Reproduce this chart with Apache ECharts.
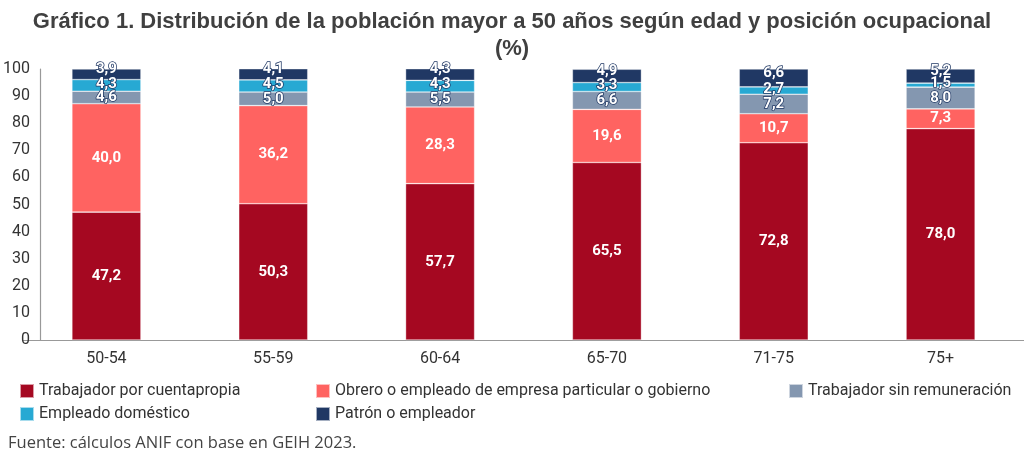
<!DOCTYPE html>
<html>
<head>
<meta charset="utf-8">
<script src="https://cdn.jsdelivr.net/npm/echarts@6/dist/echarts.min.js"></script>
<style>
  html, body { margin: 0; padding: 0; background: #fff; }
  #chart { width: 1024px; height: 451px; }
</style>
</head>
<body>
<div id="chart"></div>
<script>
// categorias y series
let categories = ['50-54', '55-59', '60-64', '65-70', '71-75', '75+'];
let cuentapropia = [47.2, 50.3, 57.7, 65.5, 72.8, 78.0];
let obrero = [40.0, 36.2, 28.3, 19.6, 10.7, 7.3];
let sinRemuneracion = [4.6, 5.0, 5.5, 6.6, 7.2, 8.0];
let domestico = [4.3, 4.5, 4.3, 3.3, 2.7, 1.5];
let patron = [3.9, 4.1, 4.3, 4.9, 6.6, 5.2];
let yTicks = [0, 10, 20, 30, 40, 50, 60, 70, 80, 90, 100];

let seriesNames = [
    'Trabajador por cuentapropia',
    'Obrero o empleado de empresa particular o gobierno',
    'Trabajador sin remuneración',
    'Empleado doméstico',
    'Patrón o empleador'
];
let seriesData = [cuentapropia, obrero, sinRemuneracion, domestico, patron];
let colors = ['#A50821', '#FF6361', '#8497B0', '#27A9D3', '#203864'];
let labelOffsets = [[0, 0], [0, 0], [0, 0], [0, -1.5], [0, -5]];
let outlined = [false, false, true, true, true];

let chart = echarts.init(document.getElementById('chart'));

let series = [];
for (let i = 0; i < seriesNames.length; i++) {
    series.push({
        name: seriesNames[i],
        type: 'bar',
        stack: 'total',
        barWidth: 69,
        data: seriesData[i],
        itemStyle: {
            color: colors[i],
            borderColor: 'rgba(255,255,255,0.6)',
            borderWidth: 0.6
        },
        label: {
            show: true,
            position: 'inside',
            offset: labelOffsets[i],
            color: '#fff',
            fontFamily: 'Roboto',
            fontWeight: 'bold',
            fontSize: 15,
            textBorderColor: outlined[i] ? colors[4] : 'transparent',
            textBorderWidth: outlined[i] ? 1.5 : 0,
            formatter: function (p) {
                return p.value.toFixed(1).replace('.', ',');
            }
        }
    });
}

// leyenda: una por elemento para alinear columnas
let legendPos = [
    [14, 378], [310, 378], [783, 378],
    [14, 401], [310, 401]
];
let legends = [];
for (let i = 0; i < seriesNames.length; i++) {
    legends.push({
        data: [seriesNames[i]],
        left: legendPos[i][0],
        top: legendPos[i][1],
        itemWidth: 14,
        itemHeight: 14,
        itemGap: 6,
        icon: 'rect',
        textStyle: {
            fontFamily: 'Roboto',
            fontSize: 16,
            color: '#333'
        },
        selectedMode: false
    });
}

let option = {
    animation: false,
    title: [
        {
            text: 'Gráfico 1. Distribución de la población mayor a 50 años según edad y posición ocupacional\n(%)',
            left: 'center',
            top: 3,
            textStyle: {
                fontFamily: 'Liberation Sans',
                fontWeight: 'bold',
                fontSize: 22,
                lineHeight: 27,
                color: '#404040',
                align: 'center'
            }
        },
        {
            text: 'Fuente: cálculos ANIF con base en GEIH 2023.',
            left: 3,
            top: 430,
            textStyle: {
                fontFamily: 'Open Sans',
                fontWeight: 'normal',
                fontSize: 16.5,
                color: '#444'
            }
        }
    ],
    legend: legends,
    grid: {
        left: 23,
        top: 69,
        width: 1015,
        height: 271
    },
    xAxis: {
        type: 'category',
        data: categories,
        axisLine: { lineStyle: { color: '#999', width: 1.2 } },
        axisTick: { show: false },
        axisLabel: {
            fontFamily: 'Roboto',
            fontSize: 16,
            color: '#333',
            margin: 11
        }
    },
    yAxis: {
        type: 'value',
        min: yTicks[0],
        max: yTicks[yTicks.length - 1],
        interval: yTicks[1] - yTicks[0],
        offset: -17,
        axisLine: { show: true, lineStyle: { color: '#999', width: 1.2 } },
        axisTick: { show: false },
        splitLine: { show: false },
        axisLabel: {
            fontFamily: 'Roboto',
            fontSize: 16,
            color: '#333',
            margin: 10,
            padding: [0, 0, 8, 0]
        }
    },
    series: series
};

chart.setOption(option);
</script>
</body>
</html>
